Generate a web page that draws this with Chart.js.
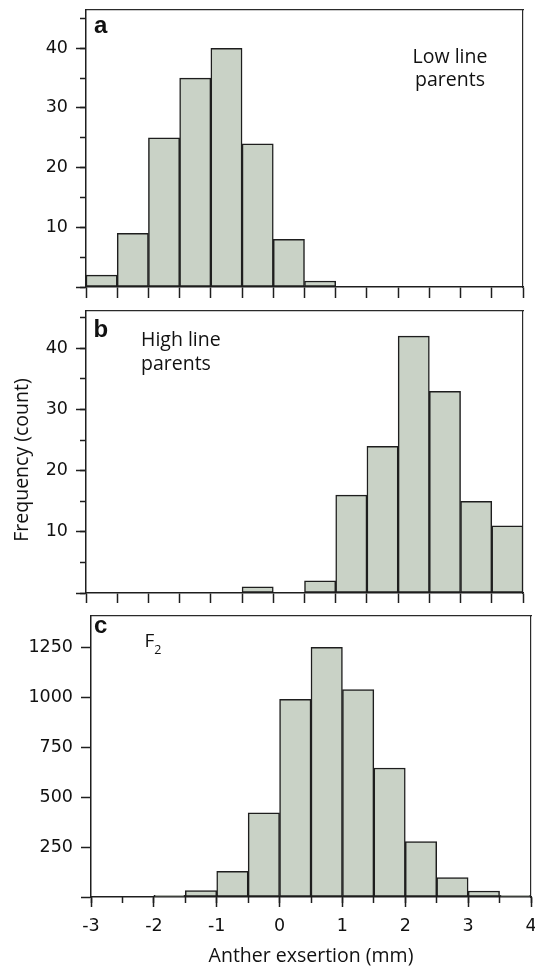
<!DOCTYPE html>
<html><head><meta charset="utf-8">
<script src="https://cdn.jsdelivr.net/npm/chart.js@4/dist/chart.umd.min.js"></script>
<style>
html,body{margin:0;padding:0;background:#fff;}
#wrap{position:relative;width:535px;height:966px;overflow:hidden;background:#fff;}
canvas{position:absolute;left:0;}
.lbl{position:absolute;font-family:"Liberation Sans",Arial,sans-serif;font-weight:bold;font-size:24px;line-height:1;color:#111;white-space:nowrap;}
.txt{position:absolute;font-family:"Open Sans",sans-serif;font-size:19.5px;color:#111;white-space:nowrap;}
</style></head><body>
<div id="wrap">
<canvas id="ca" width="535" height="300" style="top:0px"></canvas>
<canvas id="cb" width="535" height="305" style="top:300px"></canvas>
<canvas id="cc" width="535" height="366" style="top:600px"></canvas>
<div class="lbl" style="left:94px;top:13px">a</div>
<div class="lbl" style="left:93.5px;top:317px">b</div>
<div class="lbl" style="left:94px;top:612.5px">c</div>
<div class="txt" style="left:400px;top:44.2px;width:100px;text-align:center;line-height:23px">Low line<br>parents</div>
<div class="txt" style="left:141px;top:327.1px;line-height:24px">High line<br>parents</div>
<div class="txt" style="left:144.5px;top:631.4px;line-height:1;font-size:19px">F<span style="font-size:12.5px;position:relative;top:7px">2</span></div>
<div class="txt" style="left:-129px;top:447.5px;width:300px;height:24px;line-height:24px;text-align:center;transform:rotate(-90deg)">Frequency (count)</div>
</div>
<script>
// ---- data ----
const binStarts = [-3, -2.5, -2, -1.5, -1, -0.5, 0, 0.5, 1, 1.5, 2, 2.5, 3, 3.5];
const binWidth = 0.5;
const lowLine  = [2, 9, 25, 35, 40, 24, 8, 1, 0, 0, 0, 0, 0, 0];
const highLine = [0, 0, 0, 0, 0, 1, 0, 2, 16, 24, 42, 33, 15, 11];
const f2       = [0, 0, 8, 32, 128, 422, 990, 1250, 1038, 646, 277, 97, 30, 8];
const xTickLabels = ['-3', '-2', '-1', '0', '1', '2', '3', '4'];
const yTicksParents = [10, 20, 30, 40];
const yTicksF2 = [250, 500, 750, 1000, 1250];

const INK = '#1e1e1e';
const FILL = '#c9d2c6';
const tickFont = {family: '"DejaVu Sans", sans-serif', size: 17.5};

function fixed(size, horiz) {
  return s => {
    if (horiz) s.height = size; else s.width = size;
    s.paddingLeft = 0; s.paddingRight = 0; s.paddingTop = 0; s.paddingBottom = 0;
  };
}
function barData(vals) {
  return binStarts.map((b, i) => ({x: b + binWidth / 2, y: vals[i]}));
}

function makeChart(id, vals, cfg) {
  const xMin = binStarts[0], xMax = binStarts[binStarts.length - 1] + binWidth;
  const scales = {
    xt: {type: 'linear', position: 'top', min: xMin, max: xMax, offset: false,
         ticks: {display: false}, grid: {display: false, offset: false},
         border: {display: true, color: '#2a2a2a', width: 1.2}, afterFit: fixed(0, true)},
    yr: {type: 'linear', position: 'right', min: 0, max: cfg.yMax,
         ticks: {display: false}, grid: {display: false},
         border: {display: true, color: '#2a2a2a', width: 1.2}, afterFit: fixed(0, false)},
    y: {type: 'linear', position: 'left', min: 0, max: cfg.yMax, weight: 1,
        ticks: {stepSize: cfg.yStep, includeBounds: false, padding: 8, font: tickFont, color: '#111',
                callback: v => (cfg.yLabels.includes(v) ? String(v) : '')},
        grid: {drawOnChartArea: false, drawTicks: true, tickLength: 10, tickWidth: 1.5, tickColor: INK},
        border: {display: true, color: INK, width: 1.5}, afterFit: fixed(cfg.yWidth, false)}
  };
  if (cfg.yMinor) {
    scales.ym = {type: 'linear', position: 'left', min: 0, max: cfg.yMax, weight: 0,
        ticks: {display: false, stepSize: cfg.yMinor, includeBounds: false},
        grid: {drawOnChartArea: false, drawTicks: true, tickLength: 6, tickWidth: 1.5, tickColor: INK},
        border: {display: false}, afterFit: fixed(0, false)};
  }
  if (cfg.xLabels) {
    scales.x = {type: 'linear', position: 'bottom', min: xMin, max: xMax, weight: 1, offset: false,
        ticks: {stepSize: 1, includeBounds: false, padding: 9, font: tickFont, color: '#111', maxRotation: 0,
                callback: (v, i) => xTickLabels[i]},
        grid: {drawOnChartArea: false, drawTicks: true, offset: false, tickLength: 10, tickWidth: 1.5, tickColor: INK},
        border: {display: true, color: INK, width: 1.5},
        title: {display: true, text: 'Anther exsertion (mm)', color: '#111',
                font: {family: '"Open Sans", sans-serif', size: 19.5, lineHeight: 1},
                padding: {top: 0, bottom: 0}},
        afterFit: fixed(cfg.xHeight, true)};
    scales.xm = {type: 'linear', position: 'bottom', min: xMin, max: xMax, weight: 0, offset: false,
        ticks: {display: false, stepSize: binWidth},
        grid: {drawOnChartArea: false, drawTicks: true, offset: false, tickLength: 6, tickWidth: 1.5, tickColor: INK},
        border: {display: false}, afterFit: fixed(0, true)};
  } else {
    scales.x = {type: 'linear', position: 'bottom', min: xMin, max: xMax, weight: 1, offset: false,
        ticks: {display: false, stepSize: binWidth},
        grid: {drawOnChartArea: false, drawTicks: true, offset: false, tickLength: cfg.xTick, tickWidth: 1.5, tickColor: INK},
        border: {display: true, color: INK, width: 1.5}, afterFit: fixed(cfg.xHeight, true)};
  }
  return new Chart(document.getElementById(id), {
    type: 'bar',
    data: {datasets: [{
      data: barData(vals), xAxisID: 'x', yAxisID: 'y',
      backgroundColor: FILL, borderColor: INK, borderWidth: 1.5, borderSkipped: false,
      barPercentage: 1, categoryPercentage: 1, grouped: false
    }]},
    options: {
      responsive: false, animation: false, devicePixelRatio: 1, events: [],
      layout: {padding: cfg.padding},
      plugins: {legend: {display: false}, tooltip: {enabled: false}, title: {display: false}},
      scales
    }
  });
}

makeChart('ca', lowLine, {yMax: 46.4, yStep: 10, yMinor: 5, yLabels: yTicksParents, yWidth: 86,
  xHeight: 13, xTick: 11, padding: {left: 0, right: 12, top: 10, bottom: 0}});
makeChart('cb', highLine, {yMax: 46.2, yStep: 10, yMinor: 5, yLabels: yTicksParents, yWidth: 86,
  xHeight: 12, xTick: 10, padding: {left: 0, right: 12, top: 10.5, bottom: 0}});
makeChart('cc', f2, {yMax: 1407, yStep: 250, yMinor: 0, yLabels: yTicksF2, yWidth: 91,
  xLabels: true, xHeight: 69, padding: {left: 0, right: 4, top: 16, bottom: 0}});
</script>
</body></html>
